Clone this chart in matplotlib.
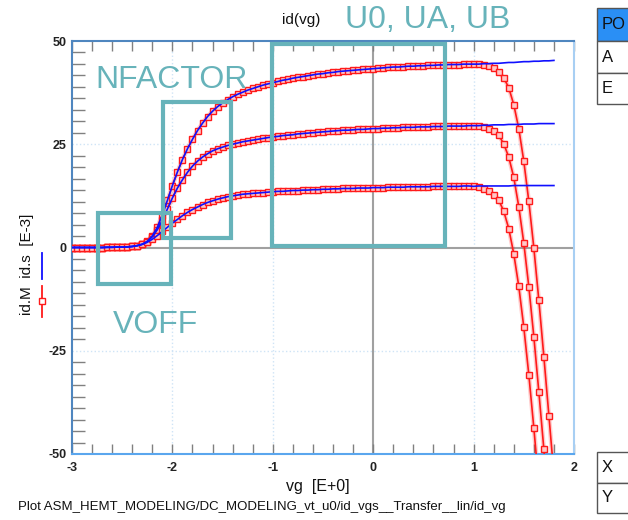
import numpy as np
import matplotlib
matplotlib.use("Agg")
import matplotlib.pyplot as plt
from matplotlib.ticker import MultipleLocator
from matplotlib.patches import Rectangle

plt.rcParams["font.family"] = ["Liberation Sans", "DejaVu Sans"]
plt.rcParams["axes.unicode_minus"] = False

# gate sweep, V
vg = np.round(np.arange(-3.0, 1.8001, 0.05), 2)

# measured drain current, mA (three drain biases)
id_meas_hi = [
    0.0, 0.0, 0.0, 0.0, 0.0, 0.0, 0.0, 0.05, 0.05, 0.1,
    0.1, 0.15, 0.25, 0.45, 0.8, 1.5, 2.8, 4.9, 7.9, 11.4,
    15.0, 18.3, 21.3, 23.9, 26.2, 28.3, 30.1, 31.7, 33.0, 34.1,
    35.0, 35.8, 36.5, 37.1, 37.6, 38.1, 38.5, 38.9, 39.3, 39.6,
    39.9, 40.2, 40.5, 40.7, 41.0, 41.2, 41.4, 41.6, 41.8, 42.0,
    42.1, 42.3, 42.4, 42.6, 42.7, 42.8, 42.9, 43.0, 43.1, 43.2,
    43.3, 43.4, 43.5, 43.6, 43.7, 43.7, 43.8, 43.9, 43.9, 44.0,
    44.0, 44.1, 44.1, 44.2, 44.2, 44.3, 44.3, 44.3, 44.4, 44.4,
    44.4, 44.4, 44.3, 43.9, 43.5, 42.5, 41.1, 38.7, 34.6, 28.8,
    20.9, 11.2, -0.1, -12.8, -26.5, -40.7, -55.0,
]
id_meas_mid = [
    0.0, 0.0, 0.0, 0.0, 0.0, 0.0, 0.0, 0.05, 0.05, 0.1,
    0.1, 0.15, 0.25, 0.45, 0.8, 1.45, 2.6, 4.3, 6.6, 9.3,
    12.0, 14.4, 16.4, 18.2, 19.7, 20.9, 21.9, 22.7, 23.4, 23.9,
    24.3, 24.7, 25.0, 25.3, 25.6, 25.8, 26.0, 26.2, 26.4, 26.6,
    26.8, 26.9, 27.1, 27.2, 27.3, 27.5, 27.6, 27.7, 27.8, 27.9,
    28.0, 28.1, 28.2, 28.3, 28.4, 28.4, 28.5, 28.6, 28.6, 28.7,
    28.8, 28.8, 28.9, 28.9, 29.0, 29.0, 29.1, 29.1, 29.1, 29.2,
    29.2, 29.2, 29.3, 29.3, 29.3, 29.4, 29.4, 29.4, 29.4, 29.5,
    29.5, 29.4, 29.2, 28.8, 28.2, 27.2, 25.1, 21.9, 17.0, 9.9,
    1.1, -9.5, -21.6, -35.0, -48.9, -63.0, -78.0,
]
id_meas_lo = [
    0.0, 0.0, 0.0, 0.0, 0.0, 0.0, 0.0, 0.05, 0.05, 0.1,
    0.1, 0.15, 0.25, 0.45, 0.75, 1.25, 2.0, 2.9, 3.9, 4.9,
    5.9, 6.8, 7.7, 8.5, 9.2, 9.8, 10.4, 10.9, 11.3, 11.7,
    12.0, 12.3, 12.5, 12.7, 12.9, 13.0, 13.1, 13.2, 13.3, 13.4,
    13.5, 13.6, 13.6, 13.7, 13.8, 13.8, 13.9, 13.9, 14.0, 14.0,
    14.1, 14.1, 14.2, 14.2, 14.3, 14.3, 14.3, 14.4, 14.4, 14.4,
    14.5, 14.5, 14.5, 14.6, 14.6, 14.6, 14.6, 14.7, 14.7, 14.7,
    14.7, 14.7, 14.8, 14.8, 14.8, 14.8, 14.8, 14.8, 14.9, 14.9,
    14.8, 14.6, 14.1, 13.6, 12.8, 11.5, 8.8, 4.6, -1.5, -9.4,
    -19.3, -30.8, -43.7, -57.5, -72.0, -87.0, -103.0,
]

# simulated current above vg = 1.0 V (below that it tracks the measurement)
id_sim_hi_tail = [44.4, 44.5, 44.5, 44.6, 44.6, 44.7, 44.8, 44.8,
                  44.9, 45.0, 45.0, 45.1, 45.1, 45.2, 45.2, 45.3]
id_sim_mid_tail = [29.5, 29.6, 29.6, 29.7, 29.7, 29.7, 29.8, 29.8,
                   29.8, 29.9, 29.9, 29.9, 30.0, 30.0, 30.0, 30.0]
id_sim_lo_tail = [14.9, 14.9, 14.9, 14.9, 14.9, 14.9, 14.9, 15.0,
                  15.0, 15.0, 15.0, 15.0, 15.0, 15.0, 15.0, 15.0]

# parameter regions: (label, vg0, vg1, id0, id1)
regions = [
    ("VOFF", -2.74, -2.01, -8.9, 8.4),
    ("NFACTOR", -2.097, -1.42, 2.2, 35.2),
    ("U0, UA, UB", -1.008, 0.715, 0.3, 49.2),
]

TEAL = "#67b3ba"
RED = "#ff1a1a"
BLUE = "#1010ff"

fig = plt.figure(figsize=(6.28, 5.2), dpi=100)
ax = fig.add_axes([72 / 628, 66 / 520, 502 / 628, 413 / 520])

ax.axvline(0, color="#a0a0a0", lw=1.5, zorder=1)
ax.axhline(0, color="#a0a0a0", lw=1.5, zorder=1)
for xg in (-2, -1, 1):
    ax.axvline(xg, color="#cfe4f6", lw=1.0, ls=":", zorder=0)
for yg in (-25, 25):
    ax.axhline(yg, color="#cfe4f6", lw=1.0, ls=":", zorder=0)

n_head = 81  # samples up to vg = 1.0
for meas, tail in ((id_meas_hi, id_sim_hi_tail),
                   (id_meas_mid, id_sim_mid_tail),
                   (id_meas_lo, id_sim_lo_tail)):
    sim = list(meas[:n_head]) + tail
    ax.plot(vg, meas, color=RED, lw=3.2, alpha=0.22, zorder=2)
    ax.plot(vg, meas, color=RED, lw=1.2, marker="s", ms=4, mew=1.0,
            mec=RED, mfc="#ffc8c8", zorder=3)
    ax.plot(vg, sim, color=BLUE, lw=1.2, zorder=4)

for label, x0, x1, y0, y1 in regions:
    ax.add_patch(Rectangle((x0, y0), x1 - x0, y1 - y0, fill=False,
                           ec=TEAL, lw=3, zorder=5, clip_on=False))

ax.set_xlim(-3, 2)
ax.set_ylim(-50, 50)
ax.set_xticks([-3, -2, -1, 0, 1, 2])
ax.set_yticks([-50, -25, 0, 25, 50])
ax.xaxis.set_minor_locator(MultipleLocator(0.2))
ax.yaxis.set_minor_locator(MultipleLocator(25 / 9))
ax.tick_params(axis="x", which="both", direction="in", top=True, bottom=True,
               length=7, width=1, color="#808080", labelsize=9, pad=6,
               labelcolor="#222222")
ax.tick_params(axis="y", which="minor", direction="in", left=True, right=False,
               length=9, width=1, color="#808080")
ax.tick_params(axis="y", which="major", direction="in", length=0,
               labelsize=9, pad=4, labelcolor="#222222")
for lbl in ax.get_xticklabels() + ax.get_yticklabels():
    lbl.set_fontweight("bold")

ax.spines["left"].set_color("#4f86bf")
ax.spines["top"].set_color("#4f86bf")
ax.spines["bottom"].set_color("#5aa6ee")
ax.spines["right"].set_color("#a8cff3")
for sp in ax.spines.values():
    sp.set_linewidth(1.5)

# region labels
fig.text(95 / 628, 1 - 88 / 520, "NFACTOR", color=TEAL, fontsize=23,
         ha="left", va="baseline")
fig.text(345 / 628, 1 - 28 / 520, "U0, UA, UB", color=TEAL, fontsize=23,
         ha="left", va="baseline")
fig.text(113 / 628, 1 - 333 / 520, "VOFF", color=TEAL, fontsize=23,
         ha="left", va="baseline")

fig.text(301 / 628, 1 - 24 / 520, "id(vg)", fontsize=11, ha="center",
         va="baseline", color="#111111")
fig.text(318 / 628, 1 - 487 / 520, "vg  [E+0]", fontsize=11.5, ha="center",
         va="center", color="#111111")
fig.text(18 / 628, 1 - 507 / 520,
         "Plot ASM_HEMT_MODELING/DC_MODELING_vt_u0/id_vgs__Transfer__lin/id_vg",
         fontsize=9.5, ha="left", va="center", color="#111111")

# y label with inline legend keys
fig.text(27 / 628, 1 - 264 / 520, "id.M  id.s  [E-3]", fontsize=11,
         rotation=90, ha="center", va="center", color="#111111")
fig.add_artist(plt.Line2D([42 / 628, 42 / 628], [1 - 279 / 520, 1 - 253 / 520],
                          color=BLUE, lw=1.3))
fig.add_artist(plt.Line2D([42 / 628, 42 / 628], [1 - 317 / 520, 1 - 286 / 520],
                          color=RED, lw=1.3))
fig.add_artist(plt.Line2D([42 / 628], [1 - 301 / 520], color=RED, marker="s",
                          ms=5, mfc="white", mec=RED, mew=1.0))

# side panel buttons
def side_box(top, bottom, text, face="white"):
    fig.add_artist(Rectangle((597 / 628, 1 - bottom / 520), 40 / 628,
                             (bottom - top) / 520, fc=face, ec="#555555",
                             lw=1.0))
    fig.text(602 / 628, 1 - (top + bottom) / 2 / 520, text, fontsize=12,
             ha="left", va="center", color="#111111")

side_box(8, 41, "PO", face="#2a8ff5")
side_box(41, 73, "A")
side_box(73, 104, "E")
side_box(452, 483, "X")
side_box(483, 513, "Y")

fig.savefig("out.png", dpi=100)
